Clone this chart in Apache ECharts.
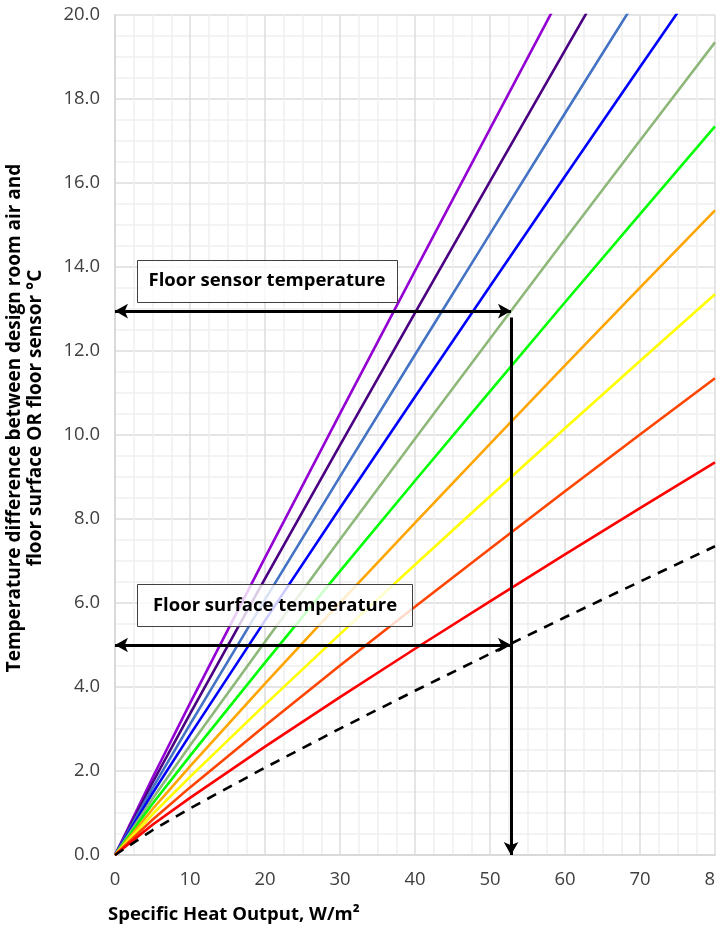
<!DOCTYPE html>
<html>
<head>
<meta charset="utf-8">
<script src="https://cdn.jsdelivr.net/npm/echarts@6/dist/echarts.min.js"></script>
<style>
html,body{margin:0;padding:0;background:#fff;}
#chart{width:716px;height:929px;}
</style>
</head>
<body>
<div id="chart"></div>
<script>
// specific heat output sample points (W/m²)
const heatOutput = [0, 5, 10, 20, 30, 40, 50, 60, 70, 80];
// temperature difference (°C) at those points (clipped at 20)
const seriesPurple     = [0, 1.84, 3.61, 7.08, 10.51, 13.91, 17.29, 20.66, 24.01, 27.35];
const seriesIndigo     = [0, 1.72, 3.36, 6.58, 9.76, 12.91, 16.04, 19.16, 22.26, 25.35];
const seriesSteelBlue  = [0, 1.59, 3.11, 6.08, 9.01, 11.91, 14.79, 17.66, 20.51, 23.35];
const seriesBlue       = [0, 1.47, 2.86, 5.58, 8.26, 10.91, 13.54, 16.16, 18.76, 21.35];
const seriesGreyGreen  = [0, 1.34, 2.61, 5.08, 7.51, 9.91, 12.29, 14.66, 17.01, 19.35];
const seriesGreen      = [0, 1.22, 2.36, 4.58, 6.76, 8.91, 11.04, 13.16, 15.26, 17.35];
const seriesOrange     = [0, 1.09, 2.11, 4.08, 6.01, 7.91, 9.79, 11.66, 13.51, 15.35];
const seriesYellow     = [0, 0.97, 1.86, 3.58, 5.26, 6.91, 8.54, 10.16, 11.76, 13.35];
const seriesOrangeRed  = [0, 0.84, 1.61, 3.08, 4.51, 5.91, 7.29, 8.66, 10.01, 11.35];
const seriesRed        = [0, 0.72, 1.36, 2.58, 3.76, 4.91, 6.04, 7.16, 8.26, 9.35];
const seriesSurface    = [0, 0.59, 1.11, 2.08, 3.01, 3.91, 4.79, 5.66, 6.51, 7.35];

const allSeries = [seriesPurple, seriesIndigo, seriesSteelBlue, seriesBlue, seriesGreyGreen, seriesGreen,
  seriesOrange, seriesYellow, seriesOrangeRed, seriesRed, seriesSurface];
const lineColors = ['#9400D3', '#4B0082', '#4472C4', '#0000FF', '#8DB87A', '#00FF00', '#FFA500', '#FFFF00', '#FF4500', '#FF0000', '#000000'];
const dashed = [false, false, false, false, false, false, false, false, false, false, true];
// annotation arrows
const sensorTemp = 12.95;
const surfaceTemp = 5.0;
const designOutput = 52.8;
const verticalTop = 12.8;
const xTicks = [0, 10, 20, 30, 40, 50, 60, 70, 80];

const font = '"Open Sans", "Noto Sans", sans-serif';
const fs = 18.5;

const series = allSeries.map((vals, i) => ({
  type: 'line',
  data: heatOutput.map((x, j) => [x, vals[j]]),
  showSymbol: false,
  symbol: 'none',
  smooth: false,
  clip: true,
  silent: true,
  z: 2,
  lineStyle: {
    color: lineColors[i],
    width: 2.6,
    join: 'round',
    type: dashed[i] ? [10, 8] : 'solid'
  }
}));

series.push({
  type: 'line',
  data: [],
  silent: true,
  z: 5,
  markLine: {
    silent: true,
    animation: false,
    symbolSize: [11, 13],
    label: {show: false},
    lineStyle: {color: '#000', width: 3, type: 'solid'},
    data: [
      [{coord: [0, sensorTemp], symbol: 'arrow'}, {coord: [designOutput, sensorTemp], symbol: 'arrow'}],
      [{coord: [0, surfaceTemp], symbol: 'arrow'}, {coord: [designOutput, surfaceTemp], symbol: 'arrow'}],
      [{coord: [designOutput, verticalTop], symbol: 'none'}, {coord: [designOutput, 0], symbol: 'arrow'}]
    ]
  }
});

const chart = echarts.init(document.getElementById('chart'), null, {renderer: 'canvas'});
chart.setOption({
  animation: false,
  backgroundColor: '#fff',
  grid: {left: 115, top: 15, right: 1, bottom: 74, containLabel: false, outerBoundsMode: 'none'},
  xAxis: {
    type: 'value',
    min: 0, max: 80, interval: 10,
    axisLine: {show: true, lineStyle: {color: '#d9d9d9', width: 2}},
    axisTick: {show: false},
    axisLabel: {color: '#404040', fontSize: fs, fontFamily: font, margin: 15, hideOverlap: false,
      formatter: v => xTicks.includes(v) ? String(v) : ''},
    splitLine: {show: true, lineStyle: {color: '#dcdcdc', width: 1.5}},
    minorTick: {show: false, splitNumber: 4},
    minorSplitLine: {show: true, lineStyle: {color: '#f0f0f0', width: 1.5}}
  },
  yAxis: {
    type: 'value',
    min: 0, max: 20, interval: 2,
    axisLine: {show: true, lineStyle: {color: '#d9d9d9', width: 2}},
    axisTick: {show: false},
    axisLabel: {color: '#404040', fontSize: fs, fontFamily: font, margin: 15,
      formatter: v => v.toFixed(1)},
    splitLine: {show: true, lineStyle: {color: '#dcdcdc', width: 1.5}},
    minorTick: {show: false, splitNumber: 4},
    minorSplitLine: {show: true, lineStyle: {color: '#f0f0f0', width: 1.5}}
  },
  series: series,
  graphic: [
    {type: 'rect', z: 100, shape: {x: 137.5, y: 260.5, width: 260, height: 42},
      style: {fill: 'rgba(255,255,255,0.8)', stroke: '#404040', lineWidth: 1}},
    {type: 'text', z: 101, x: 267, y: 281,
      style: {text: 'Floor sensor temperature', font: 'bold ' + fs + 'px ' + font, fill: '#000', align: 'center', verticalAlign: 'middle'}},
    {type: 'rect', z: 100, shape: {x: 137.5, y: 584.5, width: 275, height: 42},
      style: {fill: 'rgba(255,255,255,0.8)', stroke: '#404040', lineWidth: 1}},
    {type: 'text', z: 101, x: 275, y: 606,
      style: {text: 'Floor surface temperature', font: 'bold ' + fs + 'px ' + font, fill: '#000', align: 'center', verticalAlign: 'middle'}},
    {type: 'text', z: 101, x: 108, y: 915,
      style: {text: 'Specific Heat Output, W/m²', font: 'bold ' + fs + 'px ' + font, fill: '#000', align: 'left', verticalAlign: 'middle'}},
    {type: 'text', z: 101, x: 25, y: 418, rotation: Math.PI / 2,
      style: {text: 'Temperature difference between design room air and\nfloor surface OR floor sensor °C', font: 'bold 19px ' + font, lineHeight: 21, fill: '#000', align: 'center', verticalAlign: 'middle'}}
  ]
});
</script>
</body>
</html>
